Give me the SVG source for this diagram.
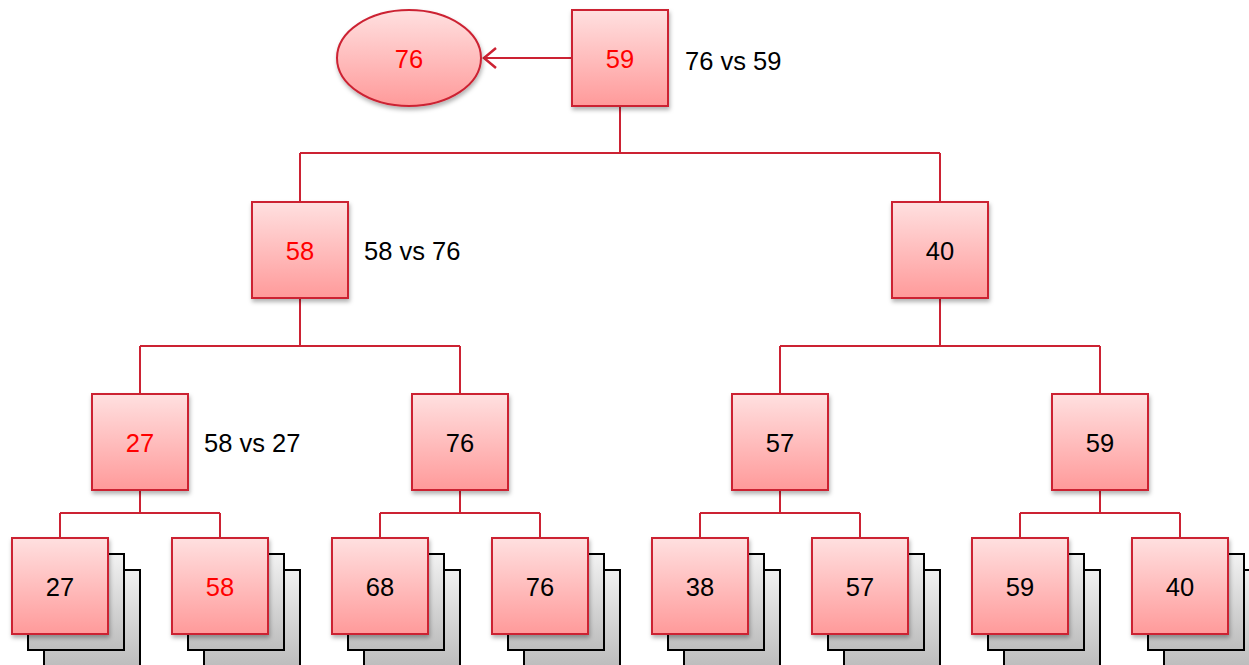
<svg xmlns="http://www.w3.org/2000/svg" width="1249" height="665" viewBox="0 0 1249 665">
<defs>
<linearGradient id="rg" x1="0" y1="0" x2="0" y2="1"><stop offset="0" stop-color="#FFE0E0"/><stop offset="1" stop-color="#FF9A9A"/></linearGradient>
<linearGradient id="gg" x1="0" y1="0" x2="0" y2="1"><stop offset="0" stop-color="#F2F2F2"/><stop offset="1" stop-color="#BDBDBD"/></linearGradient>
<filter id="sh" x="-20%" y="-20%" width="140%" height="140%"><feDropShadow dx="1" dy="3" stdDeviation="2" flood-color="#000" flood-opacity="0.3"/></filter>
<marker id="ar" markerWidth="16" markerHeight="22" refX="14" refY="11" orient="auto" markerUnits="userSpaceOnUse" overflow="visible"><path d="M2,1 L14,11 L2,21" fill="none" stroke="#CC2233" stroke-width="2.5"/></marker>
</defs>
<style>
.n{fill:url(#rg);stroke:#CC2233;stroke-width:2;filter:url(#sh)}
.g{fill:url(#gg);stroke:#000;stroke-width:2}
.c{fill:none;stroke:#CC2233;stroke-width:2}
text{font-family:"Liberation Sans",Arial,sans-serif;font-size:25.5px}
.t{text-anchor:middle;dominant-baseline:central}
.r{fill:#FF0000}
.k{fill:#000}
</style>
<g id="connectors">
<path class="c" d="M620,106 V153 M300,153 H940 M300,153 V202 M940,153 V202"/>
<path class="c" d="M300,298 V346 M140,346 H460 M140,346 V394 M460,346 V394"/>
<path class="c" d="M940,298 V346 M780,346 H1100 M780,346 V394 M1100,346 V394"/>
<path class="c" d="M140,490 V513 M60,513 H220 M60,513 V538 M220,513 V538"/>
<path class="c" d="M460,490 V513 M380,513 H540 M380,513 V538 M540,513 V538"/>
<path class="c" d="M780,490 V513 M700,513 H860 M700,513 V538 M860,513 V538"/>
<path class="c" d="M1100,490 V513 M1020,513 H1180 M1020,513 V538 M1180,513 V538"/>
<path class="c" d="M572,58 H484" marker-end="url(#ar)"/>
</g>
<g id="winner"><ellipse class="n" cx="409" cy="58" rx="72" ry="48"/><text class="t r" x="409" y="59">76</text></g>
<g id="n59"><rect class="n" x="572" y="10" width="96" height="96"/><text class="t r" x="620" y="59">59</text></g>
<text class="k" x="685" y="70">76 vs 59</text>
<g id="n58"><rect class="n" x="252" y="202" width="96" height="96"/><text class="t r" x="300" y="251">58</text></g>
<text class="k" x="364" y="260">58 vs 76</text>
<g id="n40"><rect class="n" x="892" y="202" width="96" height="96"/><text class="t k" x="940" y="251">40</text></g>
<g id="n27"><rect class="n" x="92" y="394" width="96" height="96"/><text class="t r" x="140" y="443">27</text></g>
<text class="k" x="204" y="452">58 vs 27</text>
<g id="n76"><rect class="n" x="412" y="394" width="96" height="96"/><text class="t k" x="460" y="443">76</text></g>
<g id="n57"><rect class="n" x="732" y="394" width="96" height="96"/><text class="t k" x="780" y="443">57</text></g>
<g id="n59b"><rect class="n" x="1052" y="394" width="96" height="96"/><text class="t k" x="1100" y="443">59</text></g>
<g id="l27"><rect class="g" x="44" y="570" width="96" height="96"/><rect class="g" x="28" y="554" width="96" height="96"/><rect class="n" x="12" y="538" width="96" height="96"/><text class="t k" x="60" y="587">27</text></g>
<g id="l58"><rect class="g" x="204" y="570" width="96" height="96"/><rect class="g" x="188" y="554" width="96" height="96"/><rect class="n" x="172" y="538" width="96" height="96"/><text class="t r" x="220" y="587">58</text></g>
<g id="l68"><rect class="g" x="364" y="570" width="96" height="96"/><rect class="g" x="348" y="554" width="96" height="96"/><rect class="n" x="332" y="538" width="96" height="96"/><text class="t k" x="380" y="587">68</text></g>
<g id="l76"><rect class="g" x="524" y="570" width="96" height="96"/><rect class="g" x="508" y="554" width="96" height="96"/><rect class="n" x="492" y="538" width="96" height="96"/><text class="t k" x="540" y="587">76</text></g>
<g id="l38"><rect class="g" x="684" y="570" width="96" height="96"/><rect class="g" x="668" y="554" width="96" height="96"/><rect class="n" x="652" y="538" width="96" height="96"/><text class="t k" x="700" y="587">38</text></g>
<g id="l57"><rect class="g" x="844" y="570" width="96" height="96"/><rect class="g" x="828" y="554" width="96" height="96"/><rect class="n" x="812" y="538" width="96" height="96"/><text class="t k" x="860" y="587">57</text></g>
<g id="l59"><rect class="g" x="1004" y="570" width="96" height="96"/><rect class="g" x="988" y="554" width="96" height="96"/><rect class="n" x="972" y="538" width="96" height="96"/><text class="t k" x="1020" y="587">59</text></g>
<g id="l40"><rect class="g" x="1164" y="570" width="96" height="96"/><rect class="g" x="1148" y="554" width="96" height="96"/><rect class="n" x="1132" y="538" width="96" height="96"/><text class="t k" x="1180" y="587">40</text></g>
</svg>
